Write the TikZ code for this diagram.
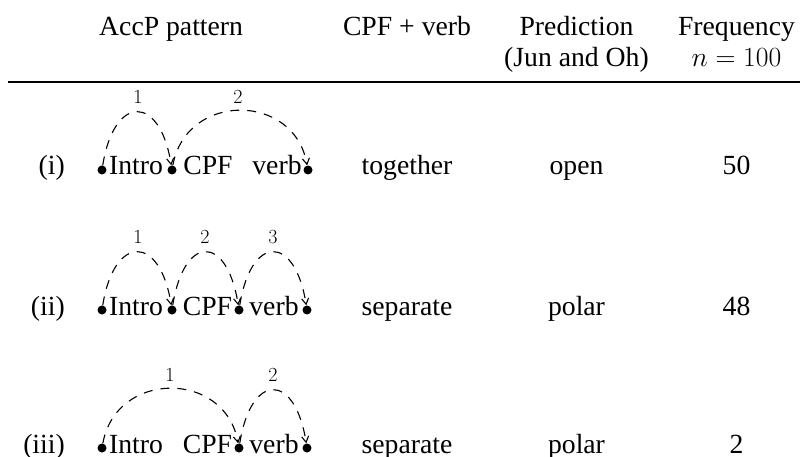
\RequirePackage{fix-cm}
\documentclass[tikz,border=0pt]{standalone}
\usepackage[no-math]{fontspec}
\setmainfont{Liberation Serif}
\usetikzlibrary{arrows.meta}
\tikzset{
  txt/.style={font=\fontsize{27.7}{33}\selectfont, inner sep=0pt},
  lbl/.style={font=\fontsize{20}{24}\selectfont, inner sep=0pt},
  wdot/.style={circle, fill, inner sep=0pt, minimum size=9pt},
  deparc/.style={dash pattern=on 9pt off 8pt, line width=1.1pt, -{Straight Barb[length=6pt,width=7pt]}},
}
\begin{document}
\begin{tikzpicture}[x=1pt,y=-1pt]
\useasboundingbox (0,0) rectangle (800,457);
% header
\node[txt, anchor=base west] (h1) at (99,36) {AccP pattern};
\node[txt, anchor=base] (h2) at (407,36) {CPF + verb};
\node[txt, anchor=base] (h3) at (576.5,36) {Prediction};
\node[txt, anchor=base] (h3b) at (576.5,67) {(Jun and Oh)};
\node[txt, anchor=base] (h4) at (736.5,36) {Frequency};
\node[txt, anchor=base] (h4b) at (736.5,67) {$n=100$};
\draw[line width=1.4pt] (8,82) -- (800,82);

% row (i)
\node[txt, anchor=base east] (r1) at (65,175) {(i)};
\node[wdot] (a1) at (102,170) {};
\node[txt, anchor=base] (w1a) at (136,175) {Intro};
\node[wdot] (b1) at (172,170) {};
\node[txt, anchor=base] (w1b) at (208,175) {CPF};
\node[txt, anchor=base] (w1c) at (277,175) {verb};
\node[wdot] (c1) at (308,170) {};
\node[lbl] (l1a) at (138,97) {$1$};
\node[lbl] (l1b) at (238,97) {$2$};
\draw[deparc] (a1) .. controls +(12,-76) and +(-12,-76) .. (b1);
\draw[deparc] (b1) .. controls +(14,-78) and +(-14,-78) .. (c1);
\node[txt, anchor=base] (t1a) at (407,175) {together};
\node[txt, anchor=base] (t1b) at (576.5,175) {open};
\node[txt, anchor=base] (t1c) at (736.5,175) {50};

% row (ii)
\node[txt, anchor=base east] (r2) at (65,315) {(ii)};
\node[wdot] (a2) at (102,310) {};
\node[txt, anchor=base] (w2a) at (136,315) {Intro};
\node[wdot] (b2) at (172,310) {};
\node[txt, anchor=base] (w2b) at (207.5,315) {CPF};
\node[wdot] (c2) at (239,310) {};
\node[txt, anchor=base] (w2c) at (274,315) {verb};
\node[wdot] (d2) at (307,310) {};
\node[lbl] (l2a) at (138,237) {$1$};
\node[lbl] (l2b) at (205,237) {$2$};
\node[lbl] (l2c) at (273,237) {$3$};
\draw[deparc] (a2) .. controls +(12,-76) and +(-12,-76) .. (b2);
\draw[deparc] (b2) .. controls +(12,-76) and +(-12,-76) .. (c2);
\draw[deparc] (c2) .. controls +(12,-76) and +(-12,-76) .. (d2);
\node[txt, anchor=base] (t2a) at (407,315) {separate};
\node[txt, anchor=base] (t2b) at (576.5,315) {polar};
\node[txt, anchor=base] (t2c) at (736.5,315) {48};

% row (iii)
\node[txt, anchor=base east] (r3) at (65,453) {(iii)};
\node[wdot] (a3) at (102,448) {};
\node[txt, anchor=base] (w3a) at (136,453) {Intro};
\node[txt, anchor=base] (w3b) at (207.5,453) {CPF};
\node[wdot] (c3) at (239,448) {};
\node[txt, anchor=base] (w3c) at (274,453) {verb};
\node[wdot] (d3) at (307,448) {};
\node[lbl] (l3a) at (170,375) {$1$};
\node[lbl] (l3b) at (273,375) {$2$};
\draw[deparc] (a3) .. controls +(14,-78) and +(-14,-78) .. (c3);
\draw[deparc] (c3) .. controls +(12,-76) and +(-12,-76) .. (d3);
\node[txt, anchor=base] (t3a) at (407,453) {separate};
\node[txt, anchor=base] (t3b) at (576.5,453) {polar};
\node[txt, anchor=base] (t3c) at (736.5,453) {2};
\end{tikzpicture}
\end{document}
